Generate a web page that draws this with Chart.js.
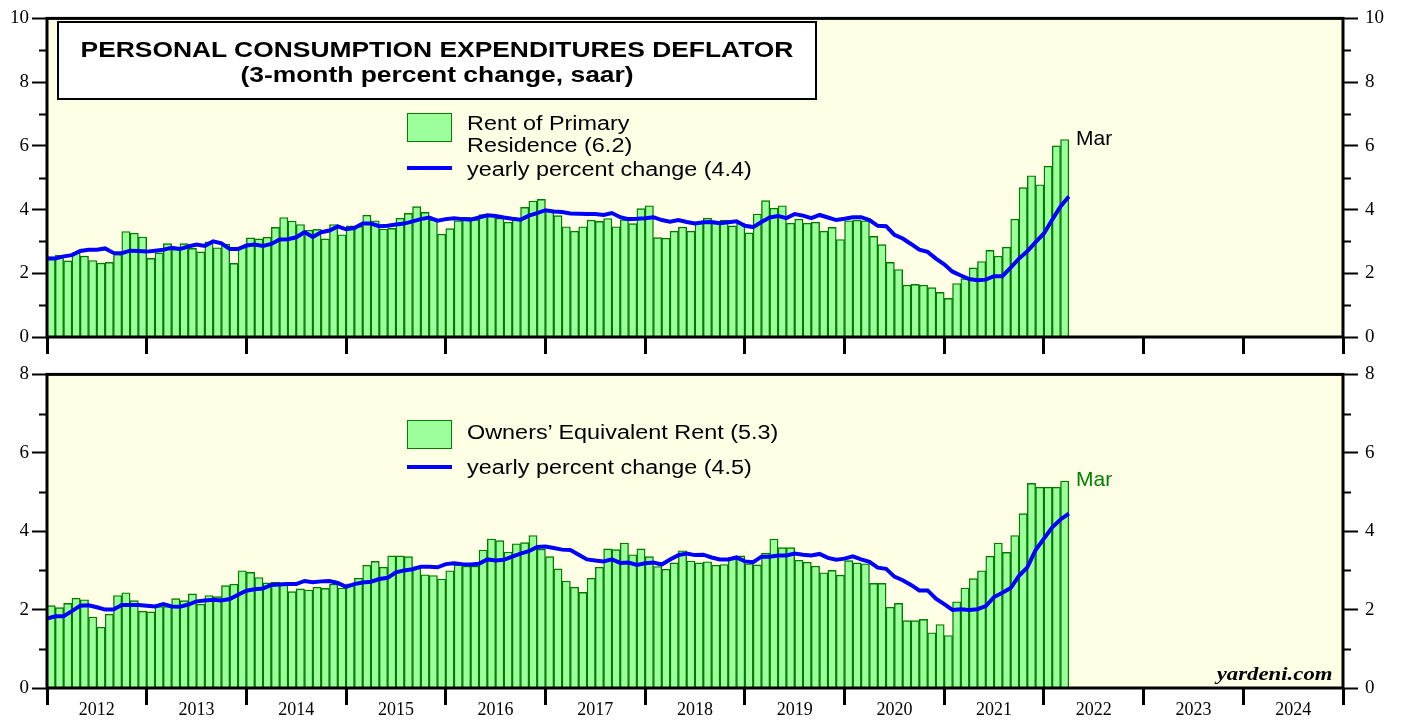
<!DOCTYPE html>
<html>
<head>
<meta charset="utf-8">
<script src="https://cdn.jsdelivr.net/npm/chart.js@4.4.0/dist/chart.umd.min.js"></script>
<style>
  html, body { margin: 0; padding: 0; background: #fff; }
  body { width: 1403px; height: 721px; position: relative; overflow: hidden;
         font-family: 'Liberation Sans', Arial, sans-serif; color: #000; }
  canvas { position: absolute; left: 0; }
  #topChart { top: 0; }
  #botChart { top: 356px; }
  .abs { position: absolute; white-space: nowrap; }
  #titleBox { left: 57px; top: 21px; width: 760px; height: 79px; box-sizing: border-box;
              border: 2px solid #000; background: #fff; }
  #titleBox div { position: absolute; left: 0; right: 0; text-align: center;
                  font-weight: bold; font-size: 22px; line-height: 22px;
                  transform: scaleX(1.2); transform-origin: center; }
  .leg { font-size: 20px; line-height: 20px; transform: scaleX(1.17); transform-origin: left; }
  .swatch { background: #9CFF9C; border: 1.5px solid #008000; box-sizing: border-box; }
  .blue { background: #0000FF; height: 4px; }
  .mar { font-size: 21px; line-height: 21px; }
  #brand { font-family: 'Liberation Serif', 'Times New Roman', serif; font-weight: bold;
           font-style: italic; font-size: 19px; line-height: 19px;
           transform: scaleX(1.2); transform-origin: right; }
</style>
</head>
<body>
<canvas id="topChart" width="1403" height="356"></canvas>
<canvas id="botChart" width="1403" height="365"></canvas>

<div id="titleBox" class="abs">
  <div style="top:16px">PERSONAL CONSUMPTION EXPENDITURES DEFLATOR</div>
  <div style="top:41px">(3-month percent change, saar)</div>
</div>

<!-- top legend -->
<div class="abs swatch" style="left:407px; top:113px; width:45px; height:29px"></div>
<div class="abs leg" style="left:467px; top:113px">Rent of Primary</div>
<div class="abs leg" style="left:467px; top:135px">Residence (6.2)</div>
<div class="abs blue" style="left:407px; top:166px; width:45px"></div>
<div class="abs leg" style="left:467px; top:159px">yearly percent change (4.4)</div>
<div class="abs mar" style="left:1076px; top:127px">Mar</div>

<!-- bottom legend -->
<div class="abs swatch" style="left:407px; top:420px; width:45px; height:29px"></div>
<div class="abs leg" style="left:467px; top:422px">Owners’ Equivalent Rent (5.3)</div>
<div class="abs blue" style="left:407px; top:465px; width:45px"></div>
<div class="abs leg" style="left:467px; top:457px">yearly percent change (4.5)</div>
<div class="abs mar" style="left:1076px; top:468px; color:#008000">Mar</div>

<div id="brand" class="abs" style="right:70px; top:664px">yardeni.com</div>

<script>
/* ---------- data (monthly from Jan 2012) ---------- */
const YEARS = ['2012', '2013', '2014', '2015', '2016', '2017', '2018',
               '2019', '2020', '2021', '2022', '2023', '2024'];

// Rent of Primary Residence, 3-month % change saar
const rentBars = [
  2.52, 2.56, 2.39, 2.64, 2.54, 2.40, 2.32, 2.34, 2.59, 3.31, 3.26, 3.14,
  2.47, 2.64, 2.93, 2.75, 2.93, 2.78, 2.67, 2.99, 2.80, 2.92, 2.31, 2.83,
  3.11, 3.08, 3.13, 3.44, 3.75, 3.64, 3.53, 3.35, 3.38, 3.08, 3.53, 3.21,
  3.49, 3.47, 3.82, 3.65, 3.39, 3.41, 3.73, 3.88, 4.09, 3.91, 3.68, 3.23,
  3.40, 3.65, 3.76, 3.68, 3.84, 3.86, 3.73, 3.60, 3.68, 4.07, 4.27, 4.32,
  3.97, 3.81, 3.46, 3.32, 3.46, 3.67, 3.63, 3.72, 3.46, 3.68, 3.56, 4.03,
  4.12, 3.12, 3.10, 3.32, 3.45, 3.32, 3.57, 3.73, 3.57, 3.67, 3.49, 3.57,
  3.27, 3.86, 4.28, 4.04, 4.12, 3.57, 3.70, 3.57, 3.60, 3.32, 3.44, 3.06,
  3.65, 3.67, 3.65, 3.16, 2.90, 2.34, 2.12, 1.63, 1.65, 1.63, 1.55, 1.40,
  1.21, 1.68, 1.83, 2.17, 2.37, 2.72, 2.54, 2.82, 3.70, 4.69, 5.06, 4.78,
  5.36, 6.00, 6.20
];
// yearly % change, read at month boundaries (first = Jan 2012 start)
const rentYoY = [
  2.46, 2.46, 2.53, 2.57, 2.70, 2.74, 2.74, 2.78, 2.64, 2.63,
  2.71, 2.70, 2.68, 2.71, 2.74, 2.80, 2.76, 2.84, 2.90, 2.86,
  3.00, 2.94, 2.76, 2.76, 2.87, 2.90, 2.86, 2.92, 3.06, 3.07,
  3.13, 3.29, 3.14, 3.29, 3.34, 3.47, 3.38, 3.42, 3.56, 3.56,
  3.48, 3.49, 3.53, 3.56, 3.63, 3.70, 3.75, 3.65, 3.70, 3.73,
  3.70, 3.68, 3.75, 3.82, 3.80, 3.75, 3.71, 3.68, 3.81, 3.89,
  3.98, 3.94, 3.92, 3.88, 3.87, 3.86, 3.86, 3.83, 3.89, 3.76,
  3.70, 3.71, 3.73, 3.76, 3.67, 3.62, 3.67, 3.61, 3.56, 3.60,
  3.61, 3.57, 3.60, 3.63, 3.49, 3.45, 3.61, 3.75, 3.80, 3.73,
  3.86, 3.81, 3.73, 3.83, 3.75, 3.67, 3.71, 3.76, 3.76, 3.67,
  3.49, 3.48, 3.21, 3.09, 2.92, 2.74, 2.67, 2.46, 2.28, 2.05,
  1.93, 1.82, 1.78, 1.80, 1.91, 1.91, 2.18, 2.46, 2.69, 2.98,
  3.25, 3.68, 4.10, 4.41
];

// Owners' Equivalent Rent, 3-month % change saar
const oerBars = [
  2.10, 2.05, 2.16, 2.29, 2.25, 1.81, 1.55, 1.88, 2.36, 2.43, 2.23, 1.96,
  1.94, 2.08, 2.08, 2.28, 2.23, 2.40, 2.14, 2.36, 2.33, 2.61, 2.65, 2.99,
  2.95, 2.82, 2.68, 2.70, 2.68, 2.46, 2.53, 2.50, 2.57, 2.54, 2.65, 2.55,
  2.66, 2.80, 3.13, 3.23, 3.08, 3.37, 3.37, 3.35, 3.09, 2.89, 2.87, 2.78,
  2.99, 3.14, 3.11, 3.11, 3.52, 3.80, 3.76, 3.47, 3.68, 3.71, 3.89, 3.54,
  3.35, 3.04, 2.73, 2.57, 2.44, 2.80, 3.08, 3.55, 3.53, 3.70, 3.40, 3.55,
  3.35, 3.10, 3.03, 3.19, 3.50, 3.24, 3.19, 3.22, 3.13, 3.15, 3.33, 3.37,
  3.17, 3.14, 3.44, 3.80, 3.58, 3.58, 3.26, 3.21, 3.11, 2.94, 3.00, 2.88,
  3.25, 3.19, 3.17, 2.67, 2.67, 2.06, 2.16, 1.72, 1.72, 1.75, 1.41, 1.62,
  1.34, 2.20, 2.55, 2.79, 2.99, 3.36, 3.70, 3.46, 3.89, 4.45, 5.22, 5.12,
  5.12, 5.12, 5.28
];
const oerYoY = [
  1.77, 1.83, 1.83, 1.96, 2.10, 2.11, 2.06, 2.00, 2.00, 2.12,
  2.12, 2.12, 2.10, 2.08, 2.14, 2.08, 2.07, 2.13, 2.21, 2.23,
  2.25, 2.23, 2.27, 2.38, 2.48, 2.52, 2.54, 2.63, 2.64, 2.65,
  2.65, 2.73, 2.70, 2.72, 2.73, 2.68, 2.58, 2.65, 2.69, 2.71,
  2.78, 2.81, 2.95, 3.00, 3.03, 3.09, 3.09, 3.08, 3.16, 3.18,
  3.16, 3.15, 3.17, 3.28, 3.25, 3.27, 3.35, 3.43, 3.49, 3.60,
  3.61, 3.57, 3.53, 3.52, 3.40, 3.28, 3.25, 3.23, 3.28, 3.19,
  3.20, 3.14, 3.18, 3.20, 3.15, 3.28, 3.39, 3.43, 3.39, 3.40,
  3.33, 3.28, 3.28, 3.33, 3.23, 3.21, 3.35, 3.35, 3.38, 3.38,
  3.43, 3.40, 3.38, 3.42, 3.32, 3.27, 3.30, 3.36, 3.28, 3.22,
  3.07, 3.04, 2.84, 2.75, 2.63, 2.49, 2.49, 2.28, 2.14, 1.99,
  2.01, 1.99, 2.01, 2.09, 2.32, 2.43, 2.55, 2.86, 3.08, 3.52,
  3.81, 4.10, 4.30, 4.45
];

/* ---------- styling ---------- */
const COLORS = {
  plotBg : '#FFFFE6',
  barFill: '#9CFF9C',
  barLine: '#007A00',
  yoyLine: '#0000FF',
  ink    : '#000'
};
const SERIF = { family: "'Liberation Serif', 'Times New Roman', serif", size: 19 };
const CLEAR = 'rgba(0,0,0,0)';

/* ---------- plot background, frame, minor y ticks ---------- */
const framePlugin = {
  id: 'frame',
  beforeDraw (chart) {
    const { ctx, chartArea: a } = chart;
    ctx.save();
    ctx.fillStyle = COLORS.plotBg;
    ctx.fillRect(a.left, a.top, a.right - a.left, a.bottom - a.top);
    ctx.restore();
  },
  afterDraw (chart) {
    const { ctx, chartArea: a, scales: { y } } = chart;
    ctx.save();
    ctx.strokeStyle = COLORS.ink;
    ctx.lineWidth = 2;
    ctx.beginPath();
    for (let v = 1; v < y.max; v += 2) {
      const py = Math.round(y.getPixelForValue(v)) + 0.5;
      ctx.moveTo(a.left - 8, py);  ctx.lineTo(a.left, py);
      ctx.moveTo(a.right, py);     ctx.lineTo(a.right + 8, py);
    }
    ctx.stroke();
    ctx.lineWidth = 3;
    ctx.strokeRect(a.left, a.top, a.right - a.left, a.bottom - a.top);
    ctx.restore();
  }
};

const yAxis = (position, max, width, pad) => ({
  position, min: 0, max,
  ticks: { stepSize: 1, autoSkip: false, padding: pad, color: COLORS.ink, font: SERIF,
           callback: v => (v % 2 === 0 ? String(v) : '') },
  grid: { drawOnChartArea: false, tickLength: 15, tickWidth: 2,
          tickColor: c => (c.tick && c.tick.value % 2 === 0 ? COLORS.ink : CLEAR) },
  border: { display: false },
  afterFit: s => { s.width = width; }
});

function makePanel (id, bars, yoy, yMax, showYears, padTop, xHeight) {
  const xMax    = YEARS.length * 12;
  const barPts  = bars.map((v, i) => ({ x: i + 0.5, y: v }));
  const linePts = yoy.map((v, i) => ({ x: i, y: v }));

  return new Chart(document.getElementById(id), {
    type: 'bar',
    data: {
      datasets: [
        { type: 'line', data: linePts, borderColor: COLORS.yoyLine, borderWidth: 4,
          pointRadius: 0, tension: 0, order: 0 },
        { type: 'bar', data: barPts, backgroundColor: COLORS.barFill,
          borderColor: COLORS.barLine, borderWidth: 1.4,
          barPercentage: 1, categoryPercentage: 1, order: 1 }
      ]
    },
    options: {
      responsive: false, animation: false, devicePixelRatio: 1,
      layout: { padding: { top: padTop, left: 0, right: 0, bottom: 0 } },
      plugins: { legend: { display: false }, tooltip: { enabled: false } },
      scales: {
        x: {
          type: 'linear', min: 0, max: xMax, offset: false,
          ticks: { stepSize: 6, autoSkip: false, maxRotation: 0, minRotation: 0,
                   padding: -6, color: COLORS.ink, font: { ...SERIF, size: 18 },
                   callback: v => (showYears && v % 12 === 6 ? YEARS[(v - 6) / 12] : '') },
          grid: { drawOnChartArea: false, offset: false, tickLength: 17, tickWidth: 3,
                  tickColor: c => (c.tick && c.tick.value % 12 === 0 ? COLORS.ink : CLEAR) },
          border: { display: false },
          afterFit: s => { s.height = xHeight; }
        },
        y:  yAxis('left', yMax, 47, 3),
        yR: yAxis('right', yMax, 60, 7)
      }
    },
    plugins: [framePlugin]
  });
}

makePanel('topChart', rentBars, rentYoY, 10, false, 15, 19);
makePanel('botChart', oerBars,  oerYoY,  8,  true,  9,  33);
</script>
</body>
</html>
